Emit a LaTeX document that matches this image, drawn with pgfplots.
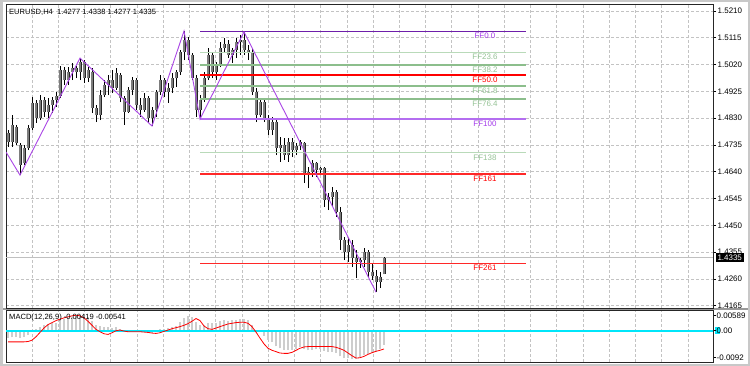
\documentclass[border=0pt]{standalone}
\usepackage{pgfplots}
\pgfplotsset{compat=1.18}
\usepackage{pgfplotstable}
\usepackage{fontspec}
\setmainfont{Liberation Sans}
\definecolor{zz}{RGB}{170,70,230}
\definecolor{ffzero}{RGB}{110,30,170}
\definecolor{ffhund}{RGB}{180,110,240}
\definecolor{fgreen}{RGB}{140,190,140}
\definecolor{flgreen}{RGB}{185,218,185}
\definecolor{flred}{RGB}{255,40,40}
\definecolor{lblpurple}{RGB}{165,60,235}
\definecolor{lblgreen}{RGB}{150,195,150}
\definecolor{gridc}{RGB}{195,195,195}
\definecolor{aqua}{RGB}{0,230,250}
\definecolor{hist}{RGB}{205,205,205}
\definecolor{bodyc}{RGB}{125,125,125}
\definecolor{winframe}{RGB}{200,200,200}
\definecolor{pline}{RGB}{192,192,192}

\pgfplotstableread{
x o h l c
8 1.4777 1.4788 1.4728 1.4745
12 1.4745 1.4841 1.4728 1.4806
16 1.4799 1.4806 1.4735 1.4742
20 1.4735 1.4742 1.4628 1.4664
24 1.4671 1.4735 1.4664 1.4724
28 1.4724 1.4806 1.4717 1.4795
32 1.4795 1.4905 1.4788 1.4884
36 1.4884 1.4894 1.4813 1.4831
40 1.4831 1.4912 1.4823 1.4894
44 1.4894 1.4905 1.4834 1.4852
48 1.4852 1.4901 1.4831 1.4877
52 1.4877 1.4905 1.4848 1.4894
56 1.4894 1.4923 1.4870 1.4909
60 1.4909 1.5015 1.4901 1.5001
64 1.5001 1.5011 1.4948 1.4965
68 1.4965 1.5011 1.4948 1.4994
72 1.4994 1.5026 1.4965 1.5008
76 1.5008 1.5015 1.4972 1.4994
80 1.4994 1.5043 1.4965 1.5029
84 1.5029 1.5036 1.4955 1.4972
88 1.4972 1.5011 1.4958 1.5001
92 1.4994 1.5008 1.4848 1.4866
96 1.4866 1.4877 1.4816 1.4841
100 1.4841 1.4930 1.4823 1.4912
104 1.4912 1.4965 1.4905 1.4948
108 1.4948 1.4983 1.4912 1.4965
112 1.4965 1.5001 1.4919 1.4937
116 1.4937 1.5008 1.4930 1.4990
120 1.4983 1.4990 1.4887 1.4901
124 1.4901 1.4909 1.4806 1.4852
128 1.4852 1.4941 1.4848 1.4930
132 1.4930 1.4976 1.4912 1.4965
136 1.4965 1.4972 1.4859 1.4877
140 1.4877 1.4901 1.4834 1.4859
144 1.4859 1.4919 1.4852 1.4901
148 1.4901 1.4909 1.4813 1.4831
152 1.4831 1.4870 1.4802 1.4859
156 1.4859 1.4930 1.4834 1.4923
160 1.4923 1.4983 1.4912 1.4965
164 1.4965 1.4972 1.4905 1.4923
168 1.4923 1.4955 1.4884 1.4937
172 1.4937 1.4990 1.4919 1.4972
176 1.4972 1.5001 1.4941 1.4994
180 1.4994 1.5072 1.4983 1.5065
184 1.5065 1.5139 1.5036 1.5107
188 1.5107 1.5118 1.5036 1.5054
192 1.5054 1.5061 1.4965 1.4972
196 1.4972 1.4983 1.4834 1.4859
200 1.4859 1.4912 1.4827 1.4894
204 1.4894 1.4994 1.4887 1.4972
208 1.4972 1.5079 1.4965 1.5054
212 1.5054 1.5061 1.4972 1.4994
216 1.4994 1.5029 1.4965 1.5019
220 1.5019 1.5100 1.5011 1.5079
224 1.5079 1.5114 1.5065 1.5093
228 1.5093 1.5107 1.5043 1.5054
232 1.5054 1.5079 1.5026 1.5072
236 1.5072 1.5114 1.5043 1.5100
240 1.5100 1.5125 1.5054 1.5107
244 1.5107 1.5136 1.5054 1.5072
248 1.5072 1.5089 1.5036 1.5065
252 1.5065 1.5079 1.4912 1.4923
256 1.4923 1.4937 1.4816 1.4841
260 1.4841 1.4901 1.4834 1.4887
264 1.4887 1.4894 1.4816 1.4831
268 1.4831 1.4841 1.4770 1.4788
272 1.4788 1.4834 1.4770 1.4816
276 1.4816 1.4823 1.4699 1.4724
280 1.4724 1.4763 1.4675 1.4735
284 1.4735 1.4760 1.4682 1.4699
288 1.4699 1.4760 1.4675 1.4745
292 1.4745 1.4760 1.4692 1.4717
296 1.4717 1.4742 1.4699 1.4731
300 1.4731 1.4753 1.4717 1.4745
304 1.4742 1.4745 1.4600 1.4628
308 1.4628 1.4657 1.4582 1.4639
312 1.4639 1.4682 1.4621 1.4671
316 1.4671 1.4675 1.4621 1.4646
320 1.4646 1.4657 1.4628 1.4653
324 1.4653 1.4657 1.4515 1.4540
328 1.4540 1.4565 1.4504 1.4550
332 1.4550 1.4586 1.4515 1.4568
336 1.4568 1.4575 1.4480 1.4497
340 1.4497 1.4515 1.4363 1.4398
344 1.4398 1.4409 1.4327 1.4355
348 1.4355 1.4405 1.4320 1.4380
352 1.4380 1.4398 1.4302 1.4334
356 1.4334 1.4363 1.4263 1.4320
360 1.4320 1.4334 1.4299 1.4327
364 1.4327 1.4370 1.4302 1.4355
368 1.4355 1.4363 1.4267 1.4284
372 1.4284 1.4316 1.4256 1.4270
376 1.4270 1.4292 1.4213 1.4249
380 1.4249 1.4284 1.4228 1.4267
384 1.4277 1.4338 1.4277 1.4335
}\ohlc

\pgfplotstableread{
x m s
8 -0.0022 -0.0033
12 -0.0020 -0.0033
16 -0.0019 -0.0033
20 -0.0022 -0.0033
24 -0.0019 -0.0033
28 -0.0013 -0.0032
32 -0.0003 -0.0028
36 0.0006 -0.0018
40 0.0012 -0.0005
44 0.0016 0.0008
48 0.0020 0.0018
52 0.0022 0.0024
56 0.0024 0.0030
60 0.0033 0.0034
64 0.0036 0.0038
68 0.0039 0.0041
72 0.0042 0.0044
76 0.0043 0.0046
80 0.0046 0.0044
84 0.0044 0.0038
88 0.0042 0.0028
92 0.0030 0.0016
96 0.0018 0.0004
100 0.0014 -0.0003
104 0.0012 -0.0009
108 0.0011 -0.0011
112 0.0008 -0.0006
116 0.0010 0.0000
120 0.0004 0.0002
124 -0.0004 -0.0001
128 0.0000 -0.0003
132 0.0003 -0.0003
136 0.0000 -0.0003
140 -0.0004 -0.0003
144 -0.0002 -0.0004
148 -0.0007 -0.0005
152 -0.0008 -0.0007
156 -0.0003 -0.0008
160 0.0005 -0.0006
164 0.0006 -0.0002
168 0.0007 0.0002
172 0.0010 0.0006
176 0.0015 0.0009
180 0.0026 0.0012
184 0.0038 0.0016
188 0.0045 0.0021
192 0.0042 0.0028
196 0.0025 0.0036
200 0.0016 0.0030
204 0.0018 0.0014
208 0.0024 0.0006
212 0.0023 0.0004
216 0.0022 0.0008
220 0.0028 0.0012
224 0.0031 0.0016
228 0.0030 0.0020
232 0.0031 0.0022
236 0.0033 0.0024
240 0.0035 0.0025
244 0.0034 0.0025
248 0.0031 0.0022
252 0.0018 0.0012
256 0.0003 -0.0004
260 -0.0004 -0.0022
264 -0.0015 -0.0039
268 -0.0027 -0.0052
272 -0.0034 -0.0058
276 -0.0046 -0.0062
280 -0.0052 -0.0066
284 -0.0057 -0.0067
288 -0.0057 -0.0067
292 -0.0056 -0.0064
296 -0.0053 -0.0058
300 -0.0049 -0.0052
304 -0.0055 -0.0048
308 -0.0058 -0.0047
312 -0.0056 -0.0047
316 -0.0055 -0.0047
320 -0.0053 -0.0047
324 -0.0060 -0.0047
328 -0.0062 -0.0047
332 -0.0062 -0.0047
336 -0.0066 -0.0049
340 -0.0076 -0.0053
344 -0.0082 -0.0058
348 -0.0082 -0.0066
352 -0.0084 -0.0074
356 -0.0084 -0.0081
360 -0.0079 -0.0080
364 -0.0073 -0.0076
368 -0.0070 -0.0070
372 -0.0066 -0.0065
376 -0.0062 -0.0061
380 -0.0055 -0.0058
384 -0.00419 -0.00541
}\macd

\begin{document}
\begin{tikzpicture}[x=1bp,y=1bp,font=\fontsize{8}{9.6}\selectfont]
\path[use as bounding box] (0bp,0bp) rectangle (750bp,366bp);
\fill[winframe] (0bp,0bp) rectangle (750bp,366bp);
\fill[white] (3bp,2bp) rectangle (748bp,364bp);
\fill[black!40] (3bp,56bp) rectangle (748bp,58.3bp);
\fill[aqua] (714.5bp,31.6bp) rectangle (719.5bp,39bp);

\begin{axis}[at={(6bp,58bp)}, anchor=south west, scale only axis,
  width=707bp, height=304bp,
  xmin=6, xmax=713, ymin=1.41568, ymax=1.52348,
  axis line style={black!85, line width=0.8bp},
  xtick={32,58.24,...,700}, xticklabels={}, xtick style={draw=none},
  ytick={1.4165,1.4260,1.4355,1.4450,1.4545,1.4640,1.4735,1.4830,1.4925,1.5020,1.5115,1.5210},
  yticklabels={1.4165,1.4260,1.4355,1.4450,1.4545,1.4640,1.4735,1.4830,1.4925,1.5020,1.5115,1.5210},
  ytick pos=right, yticklabel pos=right, tick align=outside,
  ytick style={black, line width=0.6bp}, major tick length=3bp,
  yticklabel style={anchor=west, inner sep=0pt, xshift=1.5bp, font=\fontsize{8}{9.6}\selectfont},
  grid=major, major grid style={gridc, dash pattern=on 3bp off 2bp, line width=0.7bp},
  scaled y ticks=false]
\addplot[pline, line width=0.9bp, forget plot] coordinates {(6,1.4335) (713,1.4335)};
% wicks
\addplot[draw=none, mark=none, forget plot, error bars/.cd, y dir=plus, y explicit,
  error mark=none, error bar style={draw=black, line width=0.9bp}]
  table[x=x, y=l, y error plus expr={\thisrow{h}-\thisrow{l}}] {\ohlc};
% bodies: outline then fill
\addplot[draw=none, mark=none, forget plot, error bars/.cd, y dir=both, y explicit,
  error mark=none, error bar style={draw=black!85, line width=3bp}]
  table[x=x, y=o, y error plus expr={max(\thisrow{c}-\thisrow{o},0.00004)}, y error minus expr={max(\thisrow{o}-\thisrow{c},0)}] {\ohlc};
\addplot[draw=none, mark=none, forget plot, error bars/.cd, y dir=both, y explicit,
  error mark=none, error bar style={draw=bodyc, line width=1.3bp}]
  table[x=x, y=o, y error plus expr={max(\thisrow{c}-\thisrow{o},0)}, y error minus expr={max(\thisrow{o}-\thisrow{c},0)}] {\ohlc};
\addplot[ffzero, line width=0.9bp] coordinates {(200,1.5137) (526,1.5137)};
\addplot[flgreen, line width=1bp] coordinates {(200,1.5064) (526,1.5064)};
\addplot[fgreen, line width=1.5bp] coordinates {(200,1.5019) (526,1.5019)};
\addplot[red, line width=2bp] coordinates {(200,1.4982) (526,1.4982)};
\addplot[fgreen, line width=1.5bp] coordinates {(200,1.4944) (526,1.4944)};
\addplot[fgreen, line width=1.5bp] coordinates {(200,1.4898) (526,1.4898)};
\addplot[ffhund, line width=1.5bp] coordinates {(200,1.4827) (526,1.4827)};
\addplot[flgreen, line width=1bp] coordinates {(200,1.4707) (526,1.4707)};
\addplot[flred, line width=1.2bp] coordinates {(200,1.4632) (526,1.4632)};
\addplot[flred, line width=1.2bp] coordinates {(200,1.4316) (526,1.4316)};
\addplot[zz, line width=0.9bp] coordinates {(6,1.4710) (20,1.4628) (80,1.5043) (152,1.4802) (184,1.5139) (200,1.4827) (244,1.5136) (376,1.4213)};
\node[lblpurple, anchor=north, inner sep=0pt, yshift=-1.6bp] at (axis cs:485,1.5137) {FF0.0};
\node[lblgreen, anchor=north, inner sep=0pt, yshift=-1.6bp] at (axis cs:485,1.5064) {FF23.6};
\node[lblgreen, anchor=north, inner sep=0pt, yshift=-1.6bp] at (axis cs:485,1.5019) {FF38.2};
\node[red, anchor=north, inner sep=0pt, yshift=-1.6bp] at (axis cs:485,1.4982) {FF50.0};
\node[lblgreen, anchor=north, inner sep=0pt, yshift=-1.6bp] at (axis cs:485,1.4944) {FF61.8};
\node[lblgreen, anchor=north, inner sep=0pt, yshift=-1.6bp] at (axis cs:485,1.4898) {FF76.4};
\node[lblpurple, anchor=north, inner sep=0pt, yshift=-1.6bp] at (axis cs:485,1.4827) {FF100};
\node[lblgreen, anchor=north, inner sep=0pt, yshift=-1.6bp] at (axis cs:485,1.4707) {FF138};
\node[red, anchor=north, inner sep=0pt, yshift=-1.6bp] at (axis cs:485,1.4632) {FF161};
\node[red, anchor=north, inner sep=0pt, yshift=-1.6bp] at (axis cs:485,1.4316) {FF261};
\coordinate (cp) at (axis cs:713,1.4335);
\end{axis}

\node[fill=black, text=white, anchor=west, inner xsep=1.8bp, inner ysep=1.6bp, xshift=2.5bp] at (cp) {1.4335};
\node[anchor=west, inner sep=0pt, font=\fontsize{7.6}{9}\selectfont] at (9bp,353.3bp) {EURUSD,H4\ \ 1.4277 1.4338 1.4277 1.4335};

\begin{axis}[at={(6bp,4bp)}, anchor=south west, scale only axis,
  width=707bp, height=52bp,
  xmin=6, xmax=713, ymin=-0.00926, ymax=0.00613,
  axis line style={black!85, line width=0.8bp},
  xtick={32,58.24,...,700}, xticklabels={}, xtick style={draw=none},
  ytick={-0.00787,0,0.00444}, yticklabels={,,},
  ytick pos=right, yticklabel pos=right, tick align=outside,
  ytick style={black, line width=0.6bp}, major tick length=3bp,
  xmajorgrids=true, ymajorgrids=false,
  major grid style={gridc, dash pattern=on 3bp off 2bp, line width=0.7bp},
  scaled y ticks=false]
\addplot[draw=none, mark=none, forget plot, error bars/.cd, y dir=plus, y explicit,
  error mark=none, error bar style={draw=hist, line width=1.8bp}]
  table[x=x, y expr={min(0,\thisrow{m})}, y error plus expr={abs(\thisrow{m})}] {\macd};
\addplot[aqua, line width=1.8bp] coordinates {(6,0) (713,0)};
\addplot[red, line width=0.8bp, mark=none] table[x=x, y=s] {\macd};
\end{axis}

\node[anchor=west, inner sep=0pt, font=\fontsize{7.6}{9}\selectfont] at (9bp,48.3bp) {MACD(12,26,9) -0.00419 -0.00541};
\node[anchor=west, inner sep=0pt] at (716.5bp,50.3bp) {0.00589};
\node[anchor=west, inner sep=0pt] at (716.5bp,35.3bp) {0.00};
\node[anchor=west, inner sep=0pt] at (716.5bp,8.7bp) {-0.0092};
\end{tikzpicture}
\end{document}
